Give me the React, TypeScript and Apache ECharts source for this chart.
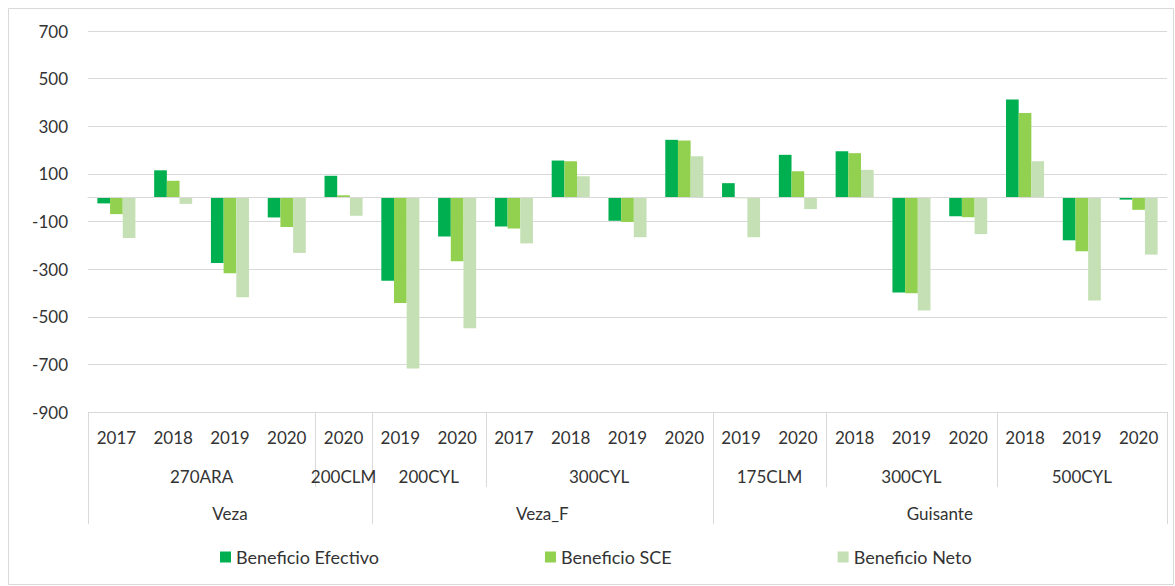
import React, { useEffect, useRef } from "react";
import * as echarts from "echarts";

const years = ["2017", "2018", "2019", "2020", "2020", "2019", "2020", "2017", "2018", "2019", "2020", "2019", "2020", "2018", "2019", "2020", "2018", "2019", "2020"];
const locationNames = ["270ARA", "200CLM", "200CYL", "300CYL", "175CLM", "300CYL", "500CYL"];
const locationSpans = [4, 1, 2, 4, 2, 3, 3];
const cropNames = ["Veza", "Veza_F", "Guisante"];
const cropSpans = [5, 6, 8];
const seriesNames = ["Beneficio Efectivo", "Beneficio SCE", "Beneficio Neto"];
const efectivo = [-24, 115, -274, -83, 92, -349, -163, -121, 156, -97, 243, 61, 180, 195, -398, -78, 412, -179, -8];
const sce = [-69, 71, -317, -123, 10, -442, -267, -129, 153, -102, 240, -2, 111, 187, -401, -82, 356, -225, -51];
const neto = [-169, -26, -418, -232, -76, -717, -548, -192, 90, -166, 174, -166, -48, 117, -474, -153, 153, -432, -239];
const colors = ["#00b050", "#92d050", "#c5e0b4"];

const FONT = "Lato, 'Open Sans', sans-serif";
const TEXT = "#333333";
const LINE = "#d9d9d9";

export default function App() {
  const ref = useRef<HTMLDivElement>(null);
  useEffect(() => {
    if (!ref.current) return;
    const chart = echarts.init(ref.current, undefined, { renderer: "svg" });
    const values = [efectivo, sce, neto];
    chart.setOption({
      animation: false,
      textStyle: { fontFamily: FONT },
      grid: { left: 88, right: 8, top: 31, bottom: 174 },
      xAxis: {
        type: "category",
        data: years,
        axisLine: { show: true, lineStyle: { color: LINE } },
        axisTick: { show: false },
        axisLabel: { color: TEXT, fontSize: 17, margin: 17, fontFamily: FONT, interval: 0 },
      },
      yAxis: {
        type: "value",
        min: -900,
        max: 700,
        interval: 200,
        axisLine: { show: false },
        axisTick: { show: false },
        axisLabel: { color: TEXT, fontSize: 17, margin: 20, fontFamily: FONT },
        splitLine: { lineStyle: { color: LINE, width: 1 } },
      },
      legend: {
        bottom: 15,
        left: 215,
        itemWidth: 11,
        itemHeight: 11,
        itemGap: 166,
        icon: "rect",
        textStyle: { color: TEXT, fontSize: 18, fontFamily: FONT },
        data: seriesNames,
      },
      series: seriesNames.map((name, i) => ({
        name,
        type: "bar",
        data: values[i],
        barGap: "0%",
        barCategoryGap: "33%",
        itemStyle: { color: colors[i] },
        ...(i === 0
          ? {
              markLine: {
                silent: true,
                symbol: "none",
                label: { show: false },
                lineStyle: { color: LINE, type: "solid", width: 1 },
                data: [{ yAxis: 0 }],
              },
            }
          : {}),
      })),
    });

    const c0 = chart.convertToPixel({ xAxisIndex: 0 }, 0) as number;
    const c1 = chart.convertToPixel({ xAxisIndex: 0 }, 1) as number;
    const cw = c1 - c0;
    const bx = (b: number) => c0 - cw / 2 + b * cw;
    const axisY = chart.convertToPixel({ yAxisIndex: 0 }, -900) as number;
    const graphics: any[] = [];
    const cropBounds = new Set<number>();
    let acc = 0;
    cropBounds.add(0);
    cropSpans.forEach((s) => {
      acc += s;
      cropBounds.add(acc);
    });
    const locBounds: number[] = [0];
    acc = 0;
    locationSpans.forEach((s) => {
      acc += s;
      locBounds.push(acc);
    });
    locBounds.forEach((b) => {
      const full = cropBounds.has(b);
      const x = Math.round(bx(b)) + 0.5;
      graphics.push({
        type: "line",
        silent: true,
        shape: { x1: x, y1: axisY, x2: x, y2: axisY + (full ? 112 : 75) },
        style: { stroke: LINE, lineWidth: 1 },
      });
    });
    acc = 0;
    locationNames.forEach((n, i) => {
      const s = locationSpans[i];
      const cx = (bx(acc) + bx(acc + s)) / 2;
      acc += s;
      graphics.push({
        type: "text",
        silent: true,
        x: cx,
        y: axisY + 64,
        style: { text: n, fill: TEXT, fontSize: 17, fontFamily: FONT, align: "center", verticalAlign: "middle" },
      });
    });
    acc = 0;
    cropNames.forEach((n, i) => {
      const s = cropSpans[i];
      const cx = (bx(acc) + bx(acc + s)) / 2;
      acc += s;
      graphics.push({
        type: "text",
        silent: true,
        x: cx,
        y: axisY + 101,
        style: { text: n, fill: TEXT, fontSize: 17, fontFamily: FONT, align: "center", verticalAlign: "middle" },
      });
    });
    graphics.push({
      type: "rect",
      silent: true,
      shape: { x: 8.5, y: 8.5, width: 1165, height: 576 },
      style: { fill: "none", stroke: LINE, lineWidth: 1 },
    });
    chart.setOption({ graphic: graphics });
    return () => chart.dispose();
  }, []);
  return <div ref={ref} style={{ width: 1175, height: 586, position: "absolute", left: 0, top: 0 }} />;
}
